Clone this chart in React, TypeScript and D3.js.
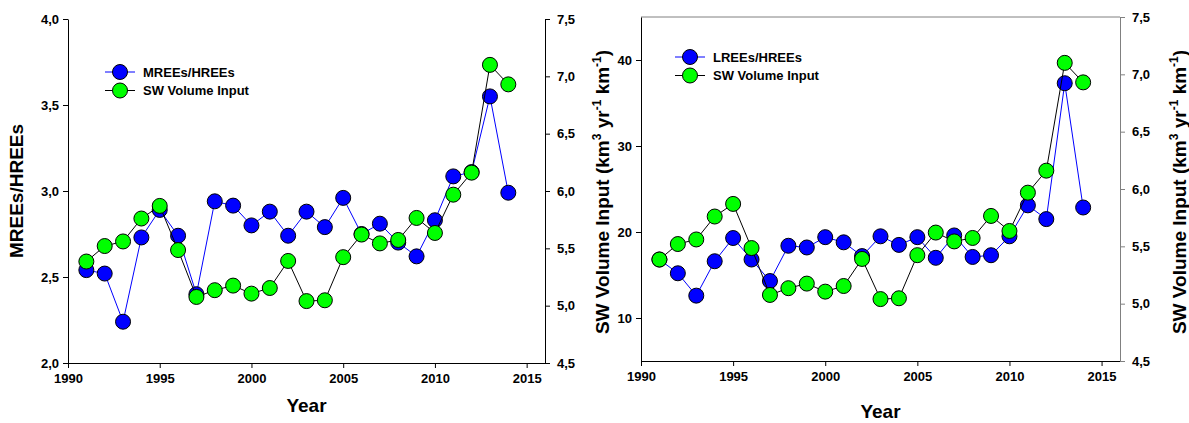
import React, { useEffect, useRef } from 'react';
import * as d3 from 'd3';

// data
const years = [1991, 1992, 1993, 1994, 1995, 1996, 1997, 1998, 1999, 2000, 2001, 2002,
  2003, 2004, 2005, 2006, 2007, 2008, 2009, 2010, 2011, 2012, 2013, 2014];
const mreeHree = [2.54, 2.52, 2.24, 2.73, 2.89, 2.74, 2.40, 2.94, 2.915, 2.80, 2.88, 2.74,
  2.88, 2.79, 2.96, 2.75, 2.81, 2.70, 2.62, 2.83, 3.085, 3.11, 3.55, 2.99];
const lreeHree = [16.8, 15.2, 12.6, 16.6, 19.3, 16.8, 14.3, 18.4, 18.2, 19.4, 18.8, 17.2,
  19.5, 18.5, 19.4, 17.0, 19.6, 17.1, 17.3, 19.5, 23.1, 21.5, 37.3, 22.85];
const swInput = [5.385, 5.52, 5.56, 5.76, 5.87, 5.485, 5.076, 5.135, 5.175, 5.105, 5.154, 5.39,
  5.04, 5.047, 5.423, 5.62, 5.543, 5.573, 5.765, 5.634, 5.968, 6.16, 7.10, 6.93];

const yearTicks = [1990, 1995, 2000, 2005, 2010, 2015];
const mreeTicks = [2.0, 2.5, 3.0, 3.5, 4.0];
const lreeTicks = [10, 20, 30, 40];
const swTicks = [4.5, 5.0, 5.5, 6.0, 6.5, 7.0, 7.5];

const FONT = '"Liberation Sans", Arial, sans-serif';
const comma = (v: number) => d3.format('.1f')(v).replace('.', ',');

function swTitle(g: any, x: number, y: number) {
  let t = g.append('text')
    .attr('transform', `translate(${x},${y}) rotate(-90)`)
    .attr('text-anchor', 'middle')
    .attr('font-size', 19)
    .attr('font-weight', 'bold')
  t.append('tspan').text('SW Volume Input (km')
  t.append('tspan').attr('dy', -8).attr('font-size', 12).text('3')
  t.append('tspan').attr('dy', 8).text(' yr')
  t.append('tspan').attr('dy', -8).attr('font-size', 12).text('-1')
  t.append('tspan').attr('dy', 8).text(' km')
  t.append('tspan').attr('dy', -8).attr('font-size', 12).text('-1')
  t.append('tspan').attr('dy', 8).text(')')
}

function drawPanel(svg: any, p: any) {
  let g = svg.append('g').attr('font-family', FONT)

  let x = d3.scaleLinear().domain([1990, 2016]).range([p.left, p.right])
  let yL = d3.scaleLinear().domain(p.ratioDomain).range([p.bottom, p.top])
  let yR = d3.scaleLinear().domain([4.5, 7.5]).range([p.bottom, p.top])

  let styleAxis = (a: any, color: string) => {
    a.attr('font-family', FONT).attr('font-size', 13).attr('font-weight', 'bold')
    a.select('.domain').attr('stroke', color)
    a.selectAll('.tick line').attr('stroke', color)
    a.selectAll('.tick text').attr('fill', '#000')
  }

  if (p.topLine) {
    g.append('line')
      .attr('x1', p.left).attr('x2', p.right)
      .attr('y1', p.top).attr('y2', p.top)
      .attr('stroke', p.rightColor)
  }

  let ax = g.append('g').attr('transform', `translate(0,${p.bottom})`)
    .call(d3.axisBottom(x).tickValues(yearTicks).tickFormat(d3.format('d')).tickSize(5).tickSizeOuter(0).tickPadding(6))
  styleAxis(ax, '#000')

  let al = g.append('g').attr('transform', `translate(${p.left},0)`)
    .call(d3.axisLeft(yL).tickValues(p.ratioTicks).tickFormat(p.ratioFormat).tickSize(5).tickSizeOuter(0).tickPadding(4))
  styleAxis(al, '#000')

  let ar = g.append('g').attr('transform', `translate(${p.right},0)`)
    .call(d3.axisRight(yR).tickValues(swTicks).tickFormat(comma).tickSize(5).tickSizeOuter(0).tickPadding(7))
  styleAxis(ar, p.rightColor)

  // series
  let ratioLine = d3.line<number>().x((d, i) => x(years[i])).y(d => yL(d))
  let swLine = d3.line<number>().x((d, i) => x(years[i])).y(d => yR(d))

  g.append('path').attr('d', ratioLine(p.ratio)).attr('fill', 'none').attr('stroke', '#0000ff').attr('stroke-width', 1)
  g.selectAll('.ratioDot').data(p.ratio).enter().append('circle')
    .attr('cx', (d: number, i: number) => x(years[i])).attr('cy', (d: number) => yL(d))
    .attr('r', 7.5).attr('fill', '#0000ff').attr('stroke', '#000').attr('stroke-width', 1)

  g.append('path').attr('d', swLine(swInput)).attr('fill', 'none').attr('stroke', '#000').attr('stroke-width', 1)
  g.selectAll('.swDot').data(swInput).enter().append('circle')
    .attr('cx', (d: number, i: number) => x(years[i])).attr('cy', (d: number) => yR(d))
    .attr('r', 7.5).attr('fill', '#00ff00').attr('stroke', '#000').attr('stroke-width', 1)

  // legend
  let items = [
    { label: p.label, fill: '#0000ff', line: '#0000ff' },
    { label: 'SW Volume Input', fill: '#00ff00', line: '#000' }
  ]
  items.forEach((it, i) => {
    let ly = p.legendY + i * 18.5
    g.append('line').attr('x1', p.legendX - 15).attr('x2', p.legendX + 15)
      .attr('y1', ly).attr('y2', ly).attr('stroke', it.line)
    g.append('circle').attr('cx', p.legendX).attr('cy', ly).attr('r', 7.5)
      .attr('fill', it.fill).attr('stroke', '#000')
    g.append('text').attr('x', p.legendX + 23).attr('y', ly + 4.5)
      .attr('font-size', 13).attr('font-weight', 'bold').text(it.label)
  })

  // titles
  g.append('text').attr('x', (p.left + p.right) / 2).attr('y', p.yearY)
    .attr('text-anchor', 'middle').attr('font-size', 19).attr('font-weight', 'bold').text('Year')

  if (p.leftTitle) {
    g.append('text').attr('transform', `translate(${p.leftTitleX},${(p.top + p.bottom) / 2}) rotate(-90)`)
      .attr('text-anchor', 'middle').attr('font-size', 19).attr('font-weight', 'bold').text(p.leftTitle)
  }
  if (p.swTitleX) swTitle(g, p.swTitleX, 192)
}

const App = () => {
  const ref = useRef<SVGSVGElement>(null)

  useEffect(() => {
    let svg = d3.select(ref.current)
    svg.selectAll('*').remove()

    drawPanel(svg, {
      left: 68, right: 545, top: 19, bottom: 363,
      ratio: mreeHree, ratioDomain: [2, 4], ratioTicks: mreeTicks, ratioFormat: comma,
      label: 'MREEs/HREEs', legendX: 120, legendY: 72,
      rightColor: '#000', topLine: false, yearY: 412,
      leftTitle: 'MREEs/HREEs', leftTitleX: 23, swTitleX: 609
    })

    drawPanel(svg, {
      left: 641, right: 1120, top: 17, bottom: 361,
      ratio: lreeHree, ratioDomain: [5, 45], ratioTicks: lreeTicks, ratioFormat: d3.format('d'),
      label: 'LREEs/HREEs', legendX: 690, legendY: 57,
      rightColor: '#808080', topLine: true, yearY: 418,
      swTitleX: 1186
    })
  }, [])

  return (
    <svg ref={ref} width={1189} height={423}
      style={{ position: 'absolute', left: 0, top: 0, background: '#fff' }} />
  )
}

export default App;
